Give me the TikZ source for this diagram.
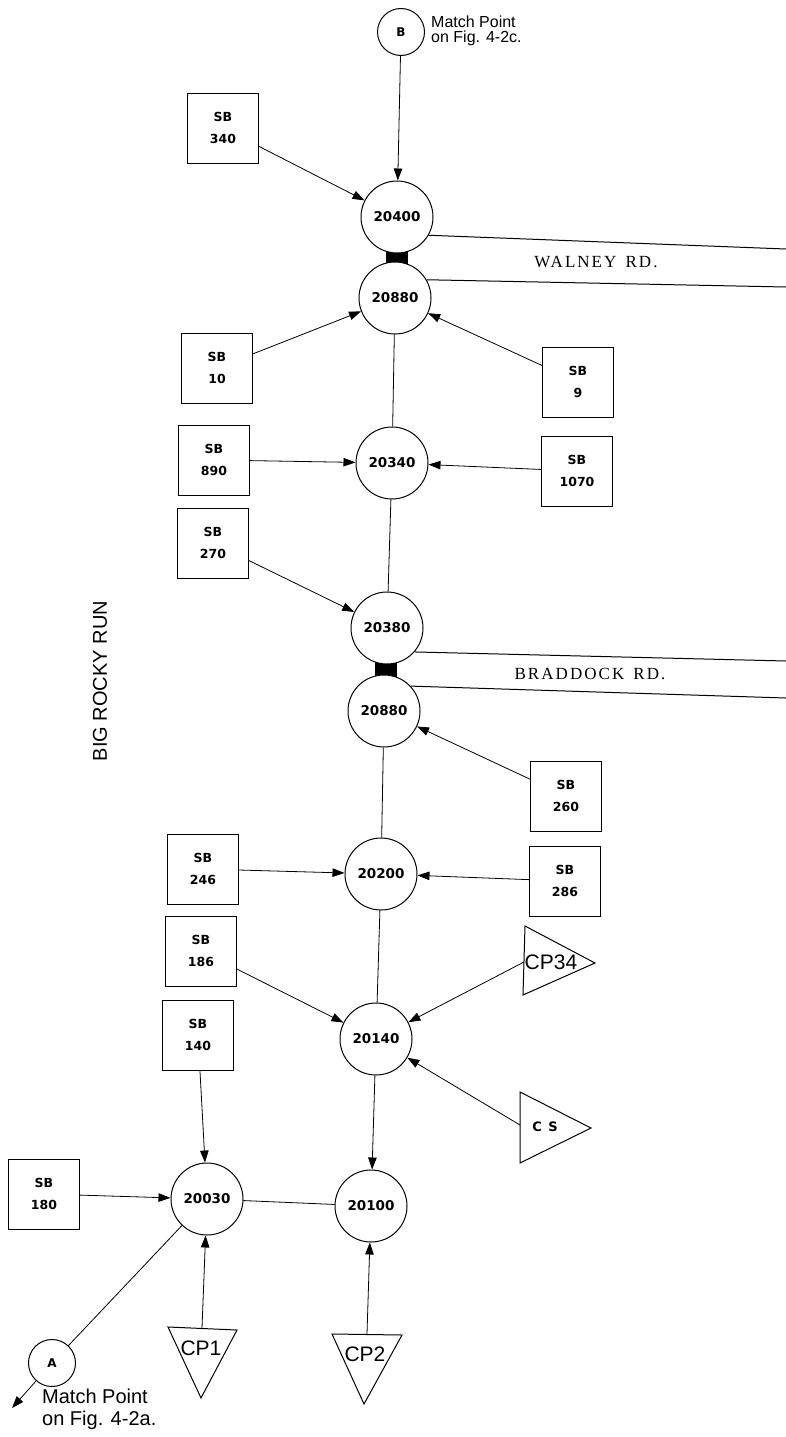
\documentclass[tikz,border=0pt]{standalone}
\usepackage{fontspec}
\setmainfont{Liberation Sans}
\newfontfamily\numfont{DejaVu Sans}
\newfontfamily\roadfont[LetterSpace=12]{Liberation Serif}
\usetikzlibrary{arrows.meta}
\begin{document}
\begin{tikzpicture}[x=1pt,y=-1pt,
  junc/.style={circle, draw, line width=1pt, fill=white, minimum size=72pt, inner sep=0pt,
    font=\numfont\bfseries\fontsize{13.5}{15}\selectfont},
  match/.style={circle, draw, line width=1pt, fill=white, minimum size=47pt, inner sep=0pt,
    font=\numfont\bfseries\fontsize{12}{13}\selectfont},
  sbbox/.style={rectangle, draw, line width=1pt, fill=white, minimum width=71pt, minimum height=70pt,
    inner sep=0pt, align=center, font=\numfont\bfseries\fontsize{12.5}{22}\selectfont},
  tritext/.style={inner sep=0pt, font=\fontsize{21}{24}\selectfont},
  arr/.style={line width=0.8pt, -{Triangle[length=12pt,width=8.5pt]}},
  link/.style={line width=0.8pt},
  road/.style={line width=1pt},
  note/.style={inner sep=0pt, anchor=west, align=left}
]
\useasboundingbox (0,0) rectangle (786,1437);

% black connectors between paired junctions (under the circles)
\fill (386,246) rectangle (408,268);
\fill (375,659) rectangle (397,681);

% junctions
\node[match] (nB) at (401,32) {B};
\node[junc] (n20400) at (397,217) {20400};
\node[junc] (n20880a) at (395,298) {20880};
\node[junc] (n20340) at (392,463) {20340};
\node[junc] (n20380) at (387,628) {20380};
\node[junc] (n20880b) at (384,711) {20880};
\node[junc] (n20200) at (381,874) {20200};
\node[junc] (n20140) at (376,1039) {20140};
\node[junc] (n20100) at (371,1206) {20100};
\node[junc] (n20030) at (207,1199) {20030};
\node[match] (nA) at (52,1363) {A};

% subbasin boxes
\node[sbbox] (sb340) at (223,128) {SB\\340};
\node[sbbox] (sb10) at (217,368) {SB\\10};
\node[sbbox] (sb9) at (578,382) {SB\\9};
\node[sbbox] (sb890) at (214,460) {SB\\890};
\node[sbbox] (sb1070) at (577,471) {SB\\1070};
\node[sbbox] (sb270) at (213,543) {SB\\270};
\node[sbbox] (sb260) at (566,796) {SB\\260};
\node[sbbox] (sb246) at (203,869) {SB\\246};
\node[sbbox] (sb286) at (565,881) {SB\\286};
\node[sbbox] (sb186) at (201,951) {SB\\186};
\node[sbbox] (sb140) at (198,1035) {SB\\140};
\node[sbbox] (sb180) at (44,1194) {SB\\180};

% triangles (control points)
\draw[line width=1pt] (525,926) -- (595,963) -- (523,995) -- cycle;
\node[tritext] (cp34) at (551,962) {CP34};
\coordinate (cp34in) at (524,962);
\draw[line width=1pt] (520,1092) -- (591,1128) -- (520,1163) -- cycle;
\node[inner sep=0pt, font=\numfont\bfseries\fontsize{13}{14}\selectfont] (cs) at (545,1127) {C\,\,\,S};
\coordinate (csin) at (520,1125);
\draw[line width=1pt] (168,1327) -- (237,1330) -- (201,1398) -- cycle;
\node[tritext] (cp1) at (201,1348) {CP1};
\coordinate (cp1in) at (202,1328);
\draw[line width=1pt] (332,1334) -- (402,1335) -- (364,1404) -- cycle;
\node[tritext] (cp2) at (365,1354) {CP2};
\coordinate (cp2in) at (367,1334);

% main stem
\draw[arr] (nB) -- (n20400);
\draw[link] (n20880a) -- (n20340);
\draw[link] (n20340) -- (n20380);
\draw[link] (n20880b) -- (n20200);
\draw[link] (n20200) -- (n20140);
\draw[arr] (n20140) -- (n20100);
\draw[link] (n20030) -- (n20100);
\draw[link] (nA) -- (n20030);
\coordinate (aout) at (12,1408);
\draw[arr] (nA) -- (aout);

% inflows
\draw[arr] (sb340) -- (n20400);
\draw[arr] (sb10) -- (n20880a);
\draw[arr] (sb9) -- (n20880a);
\draw[arr] (sb890) -- (n20340);
\draw[arr] (sb1070) -- (n20340);
\draw[arr] (sb270) -- (n20380);
\draw[arr] (sb260) -- (n20880b);
\draw[arr] (sb246) -- (n20200);
\draw[arr] (sb286) -- (n20200);
\draw[arr] (sb186) -- (n20140);
\draw[arr] (cp34in) -- (n20140);
\draw[arr] (csin) -- (n20140);
\draw[arr] (sb140) -- (n20030);
\draw[arr] (sb180) -- (n20030);
\draw[arr] (cp1in) -- (n20030);
\draw[arr] (cp2in) -- (n20100);

% roads
\coordinate (wa) at (786,249);
\coordinate (wb) at (786,287);
\coordinate (ba) at (786,661);
\coordinate (bb) at (786,698);
\draw[road] (n20400.-30) -- (wa);
\draw[road] (n20880a.30) -- (wb);
\draw[road] (n20380.-41) -- (ba);
\draw[road] (n20880b.43) -- (bb);
\node[font=\roadfont\fontsize{17}{18}\selectfont] (walney) at (596,262) {WALNEY\, RD.};
\node[font=\roadfont\fontsize{17}{18}\selectfont] (braddock) at (590,674) {BRADDOCK\, RD.};

% notes
\node[note, font=\fontsize{16}{15}\selectfont] (noteB) at (431,31) {Match Point\\on Fig. 4-2c.};
\node[note, font=\fontsize{20}{22}\selectfont] (noteA) at (42,1409) {Match Point\\on Fig. 4-2a.};
\node[rotate=90, font=\fontsize{20}{24}\selectfont] (brr) at (100,681) {BIG ROCKY RUN};
\end{tikzpicture}
\end{document}
